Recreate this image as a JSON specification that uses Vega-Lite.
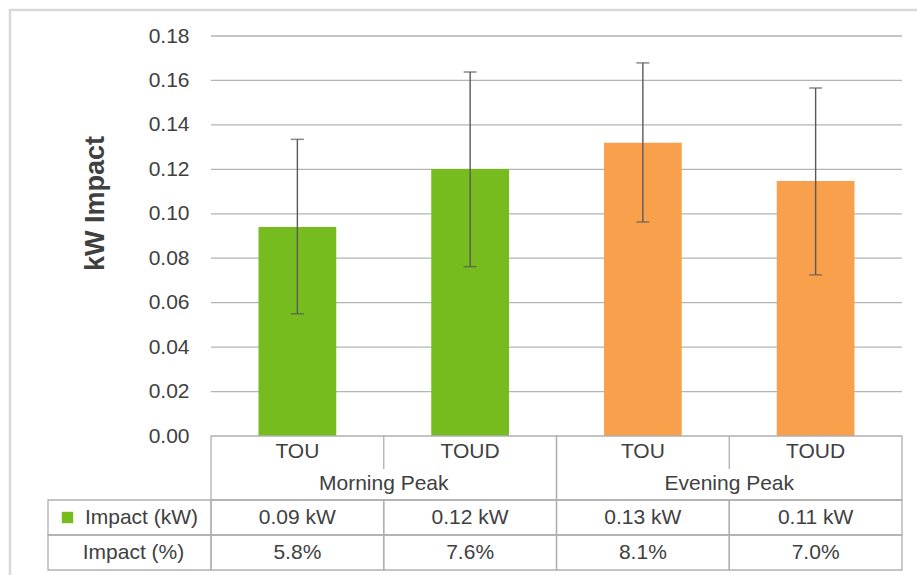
{
  "$schema": "https://vega.github.io/schema/vega-lite/v6.json",
  "width": 909,
  "height": 567,
  "autosize": {"type": "none"},
  "padding": {"left": 10, "top": 10, "right": 0, "bottom": 0},
  "background": "white",
  "config": {
    "font": "Liberation Sans",
    "view": {"stroke": "#d9d9d9", "strokeWidth": 2.5}
  },
  "datasets": {
    "main": [
      {"bar": "MP-TOU", "peak": "Morning Peak", "rate": "TOU", "kw": 0.094, "lo": 0.055, "hi": 0.1335, "kwText": "0.09 kW", "pctText": "5.8%"},
      {"bar": "MP-TOUD", "peak": "Morning Peak", "rate": "TOUD", "kw": 0.1202, "lo": 0.0762, "hi": 0.1638, "kwText": "0.12 kW", "pctText": "7.6%"},
      {"bar": "EP-TOU", "peak": "Evening Peak", "rate": "TOU", "kw": 0.132, "lo": 0.0963, "hi": 0.1679, "kwText": "0.13 kW", "pctText": "8.1%"},
      {"bar": "EP-TOUD", "peak": "Evening Peak", "rate": "TOUD", "kw": 0.1148, "lo": 0.0725, "hi": 0.1566, "kwText": "0.11 kW", "pctText": "7.0%"}
    ],
    "grid": [
      {"v": 0.02}, {"v": 0.04}, {"v": 0.06}, {"v": 0.08}, {"v": 0.10},
      {"v": 0.12}, {"v": 0.14}, {"v": 0.16}, {"v": 0.18}
    ],
    "hdr": [
      {"row": "kwText", "label": "Impact (kW)"},
      {"row": "pctText", "label": "Impact (%)"}
    ]
  },
  "resolve": {"scale": {"x": "independent", "y": "independent", "color": "independent"}},
  "layer": [
    {
      "data": {"name": "grid"},
      "mark": {"type": "rule", "color": "#b4b4b4", "strokeWidth": 1.3},
      "encoding": {
        "x": {"datum": 0, "type": "quantitative", "scale": {"domain": [0, 1], "range": [201, 892]}, "axis": null},
        "x2": {"datum": 1},
        "y": {"field": "v", "type": "quantitative", "scale": {"domain": [0, 0.18], "range": [426, 26]}, "axis": null}
      }
    },
    {
      "data": {"name": "main"},
      "mark": {"type": "bar", "width": {"band": 0.45}},
      "encoding": {
        "x": {"field": "bar", "type": "nominal", "sort": null, "scale": {"domain": ["MP-TOU", "MP-TOUD", "EP-TOU", "EP-TOUD"], "range": [201, 892], "paddingInner": 0, "paddingOuter": 0}, "axis": null},
        "y": {"field": "kw", "type": "quantitative",
          "scale": {"domain": [0, 0.18], "range": [426, 26]},
          "axis": {
            "values": [0, 0.02, 0.04, 0.06, 0.08, 0.1, 0.12, 0.14, 0.16, 0.18],
            "format": ".2f", "offset": -201, "ticks": false, "domain": false, "grid": false,
            "labelPadding": 22, "labelFontSize": 21, "labelColor": "#404040",
            "title": "kW Impact", "titleFontSize": 27, "titleFontWeight": "bold", "titleColor": "#404040",
            "titleX": -116, "titleY": 193, "titleBaseline": "middle", "titleAlign": "center", "titleAngle": 270
          }
        },
        "color": {"field": "peak", "type": "nominal", "scale": {"domain": ["Morning Peak", "Evening Peak"], "range": ["#77bc1f", "#f8a04c"]}, "legend": null}
      }
    },
    {
      "data": {"name": "main"},
      "mark": {"type": "rule", "color": "#595959", "strokeWidth": 1.4},
      "encoding": {
        "x": {"field": "bar", "type": "nominal", "scale": {"domain": ["MP-TOU", "MP-TOUD", "EP-TOU", "EP-TOUD"], "range": [201, 892], "paddingInner": 0, "paddingOuter": 0}, "axis": null},
        "y": {"field": "lo", "type": "quantitative", "scale": {"domain": [0, 0.18], "range": [426, 26]}, "axis": null},
        "y2": {"field": "hi"}
      }
    },
    {
      "data": {"name": "main"},
      "transform": [{"fold": ["lo", "hi"], "as": ["end", "val"]}],
      "mark": {"type": "tick", "color": "#595959", "size": 13, "thickness": 1.5},
      "encoding": {
        "x": {"field": "bar", "type": "nominal", "scale": {"domain": ["MP-TOU", "MP-TOUD", "EP-TOU", "EP-TOUD"], "range": [201, 892], "paddingInner": 0, "paddingOuter": 0}, "axis": null},
        "y": {"field": "val", "type": "quantitative", "scale": {"domain": [0, 0.18], "range": [426, 26]}, "axis": null}
      }
    },
    {
      "data": {"name": "main"},
      "transform": [{"aggregate": [], "groupby": ["peak"]}],
      "mark": {"type": "rect", "fill": "transparent", "stroke": "#b0b0b0", "strokeWidth": 1.3},
      "encoding": {
        "x": {"field": "peak", "type": "nominal", "scale": {"domain": ["Morning Peak", "Evening Peak"], "range": [201, 892], "paddingInner": 0, "paddingOuter": 0}, "axis": null},
        "y": {"datum": "blk", "type": "nominal", "scale": {"domain": ["blk"], "range": [426, 490], "paddingInner": 0, "paddingOuter": 0}, "axis": null}
      }
    },
    {
      "data": {"name": "main"},
      "transform": [{"filter": "datum.rate == 'TOUD'"}],
      "mark": {"type": "rule", "color": "#b0b0b0", "strokeWidth": 1.3},
      "encoding": {
        "x": {"field": "bar", "type": "nominal", "bandPosition": 0, "scale": {"domain": ["MP-TOU", "MP-TOUD", "EP-TOU", "EP-TOUD"], "range": [201, 892], "paddingInner": 0, "paddingOuter": 0}, "axis": null},
        "y": {"datum": "a", "type": "nominal", "scale": {"type": "point", "domain": ["a", "b"], "range": [426, 459], "padding": 0}, "axis": null},
        "y2": {"datum": "b"}
      }
    },
    {
      "data": {"name": "main"},
      "mark": {"type": "text", "fontSize": 21, "color": "#404040"},
      "encoding": {
        "x": {"field": "bar", "type": "nominal", "scale": {"domain": ["MP-TOU", "MP-TOUD", "EP-TOU", "EP-TOUD"], "range": [201, 892], "paddingInner": 0, "paddingOuter": 0}, "axis": null},
        "y": {"datum": "cat", "type": "nominal", "scale": {"domain": ["cat", "grp"], "range": [426, 490], "paddingInner": 0, "paddingOuter": 0}, "axis": null},
        "text": {"field": "rate"}
      }
    },
    {
      "data": {"name": "main"},
      "transform": [{"aggregate": [], "groupby": ["peak"]}],
      "mark": {"type": "text", "fontSize": 21, "color": "#404040"},
      "encoding": {
        "x": {"field": "peak", "type": "nominal", "scale": {"domain": ["Morning Peak", "Evening Peak"], "range": [201, 892], "paddingInner": 0, "paddingOuter": 0}, "axis": null},
        "y": {"datum": "grp", "type": "nominal", "scale": {"domain": ["cat", "grp"], "range": [426, 490], "paddingInner": 0, "paddingOuter": 0}, "axis": null},
        "text": {"field": "peak"}
      }
    },
    {
      "data": {"name": "main"},
      "transform": [{"fold": ["kwText", "pctText"], "as": ["row", "txt"]}],
      "mark": {"type": "rect", "fill": "transparent", "stroke": "#b0b0b0", "strokeWidth": 1.3},
      "encoding": {
        "x": {"field": "bar", "type": "nominal", "scale": {"domain": ["MP-TOU", "MP-TOUD", "EP-TOU", "EP-TOUD"], "range": [201, 892], "paddingInner": 0, "paddingOuter": 0}, "axis": null},
        "y": {"field": "row", "type": "nominal", "scale": {"domain": ["kwText", "pctText"], "range": [490, 560], "paddingInner": 0, "paddingOuter": 0}, "axis": null}
      }
    },
    {
      "data": {"name": "main"},
      "transform": [{"fold": ["kwText", "pctText"], "as": ["row", "txt"]}],
      "mark": {"type": "text", "fontSize": 21, "color": "#404040"},
      "encoding": {
        "x": {"field": "bar", "type": "nominal", "scale": {"domain": ["MP-TOU", "MP-TOUD", "EP-TOU", "EP-TOUD"], "range": [201, 892], "paddingInner": 0, "paddingOuter": 0}, "axis": null},
        "y": {"field": "row", "type": "nominal", "scale": {"domain": ["kwText", "pctText"], "range": [490, 560], "paddingInner": 0, "paddingOuter": 0}, "axis": null},
        "text": {"field": "txt"}
      }
    },
    {
      "data": {"name": "hdr"},
      "mark": {"type": "rect", "fill": "transparent", "stroke": "#b0b0b0", "strokeWidth": 1.3},
      "encoding": {
        "x": {"datum": "header", "type": "nominal", "scale": {"domain": ["header"], "range": [38, 201], "paddingInner": 0, "paddingOuter": 0}, "axis": null},
        "y": {"field": "row", "type": "nominal", "scale": {"domain": ["kwText", "pctText"], "range": [490, 560], "paddingInner": 0, "paddingOuter": 0}, "axis": null}
      }
    },
    {
      "data": {"name": "hdr"},
      "transform": [{"filter": "datum.row == 'kwText'"}],
      "mark": {"type": "text", "fontSize": 21, "color": "#404040", "dx": 12},
      "encoding": {
        "x": {"datum": "header", "type": "nominal", "scale": {"domain": ["header"], "range": [38, 201], "paddingInner": 0, "paddingOuter": 0}, "axis": null},
        "y": {"field": "row", "type": "nominal", "scale": {"domain": ["kwText", "pctText"], "range": [490, 560], "paddingInner": 0, "paddingOuter": 0}, "axis": null},
        "text": {"field": "label"}
      }
    },
    {
      "data": {"name": "hdr"},
      "transform": [{"filter": "datum.row == 'pctText'"}],
      "mark": {"type": "text", "fontSize": 21, "color": "#404040", "dx": 4},
      "encoding": {
        "x": {"datum": "header", "type": "nominal", "scale": {"domain": ["header"], "range": [38, 201], "paddingInner": 0, "paddingOuter": 0}, "axis": null},
        "y": {"field": "row", "type": "nominal", "scale": {"domain": ["kwText", "pctText"], "range": [490, 560], "paddingInner": 0, "paddingOuter": 0}, "axis": null},
        "text": {"field": "label"}
      }
    },
    {
      "data": {"name": "hdr"},
      "transform": [{"filter": "datum.row == 'kwText'"}],
      "mark": {"type": "point", "shape": "square", "filled": true, "size": 130, "opacity": 1, "color": "#77bc1f", "xOffset": -62},
      "encoding": {
        "x": {"datum": "header", "type": "nominal", "scale": {"domain": ["header"], "range": [38, 201], "paddingInner": 0, "paddingOuter": 0}, "axis": null},
        "y": {"field": "row", "type": "nominal", "scale": {"domain": ["kwText", "pctText"], "range": [490, 560], "paddingInner": 0, "paddingOuter": 0}, "axis": null}
      }
    }
  ]
}
